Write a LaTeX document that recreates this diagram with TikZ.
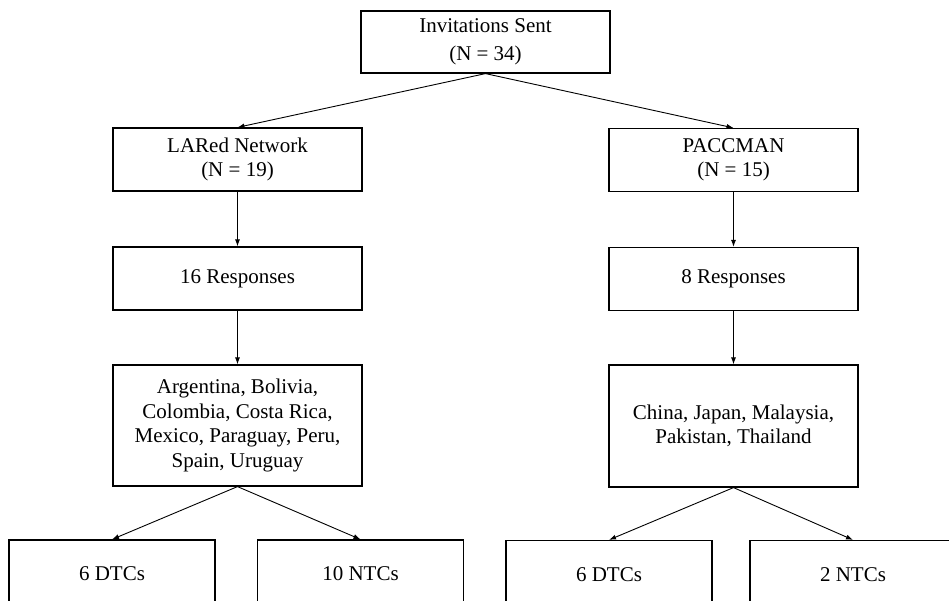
\documentclass[tikz,border=0pt]{standalone}
\usepackage{fontspec}
\setmainfont{Liberation Serif}
\usetikzlibrary{positioning,arrows.meta}

\tikzset{
  box/.style={draw,line width=1.2pt,minimum width=249pt,minimum height=63pt,
    align=center,inner sep=4pt,font={\fontsize{21}{24.5}\selectfont}},
  leaf/.style={box,minimum width=206pt,minimum height=68pt},
}

\begin{document}
\begin{tikzpicture}[x=1pt,y=1pt,node distance=120pt,on grid,
    >={Latex[length=7pt,width=5pt]},line width=0.9pt]
   \path[use as bounding box,clip] (0,0) rectangle (949,-601);
   \node[box,minimum height=62pt] (inv) at (485.5,-42) {Invitations Sent\\[4pt](N = 34)};
   \node[box] (lared) [below left=117.5pt and 248pt of inv] {LARed Network\\(N = 19)};
   \node[box] (pacc) [below right=118pt and 248pt of inv] {PACCMAN\\(N = 15)};
   \node[box] (respl) [below=119pt of lared] {16 Responses};
   \node[box] (respr) [below=119pt of pacc] {8 Responses};
   \node[box,minimum height=121pt] (ctyl) [below=147pt of respl]
      {Argentina, Bolivia,\\Colombia, Costa Rica,\\Mexico, Paraguay, Peru,\\Spain, Uruguay};
   \node[box,minimum height=122pt] (ctyr) [below=147pt of respr]
      {China, Japan, Malaysia,\\Pakistan, Thailand};
   \node[leaf] (dtcl) [below left=148.5pt and 125.5pt of ctyl] {6 DTCs};
   \node[leaf] (ntcl) [below right=148.5pt and 123pt of ctyl] {10 NTCs};
   \node[leaf] (dtcr) [below left=148.5pt and 124.5pt of ctyr] {6 DTCs};
   \node[leaf] (ntcr) [below right=148.5pt and 119.5pt of ctyr] {2 NTCs};
    \path[->]
    (inv.south)   edge (lared.north)
                  edge (pacc.north)
    (lared.south) edge (respl.north)
    (pacc.south)  edge (respr.north)
    (respl.south) edge (ctyl.north)
    (respr.south) edge (ctyr.north)
    (ctyl.south)  edge (dtcl.north)
                  edge (ntcl.north)
    (ctyr.south)  edge (dtcr.north)
                  edge (ntcr.north);
\end{tikzpicture}
\end{document}
